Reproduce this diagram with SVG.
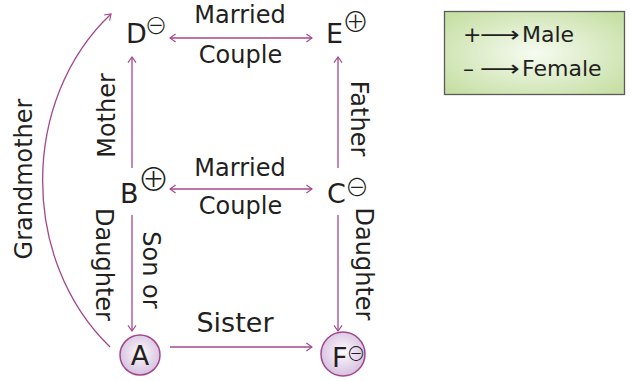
<svg xmlns="http://www.w3.org/2000/svg" width="631" height="381" viewBox="0 0 631 381">
<style>
.t{font-family:"DejaVu Sans","Liberation Sans",sans-serif;fill:#231f20}
.lb{font-size:24px;text-anchor:middle}
.ltr{font-size:27px}
.sy{font-family:"Noto Sans CJK JP","DejaVu Sans",sans-serif;font-weight:300;fill:#231f20;text-anchor:middle;dominant-baseline:central}
.con{fill:none;stroke:#a3478c;stroke-width:1.3}
.node{fill:url(#cg);stroke:#a3478c;stroke-width:1.5}
.leg{font-size:22px}
</style>
<defs>
<marker id="ah" viewBox="0 0 10 12" refX="9" refY="6" markerWidth="8" markerHeight="10" markerUnits="userSpaceOnUse" orient="auto-start-reverse">
<path d="M2,1 L9,6 L2,11" fill="none" stroke="#a3478c" stroke-width="1.4"/>
</marker>
<radialGradient id="cg" cx="50%" cy="45%" r="55%">
<stop offset="0" stop-color="#fdfbfd"/>
<stop offset="1" stop-color="#d6c0e0"/>
</radialGradient>
<radialGradient id="lg" cx="50%" cy="50%" r="65%">
<stop offset="0" stop-color="#f6fbf1"/>
<stop offset="1" stop-color="#c6dfa4"/>
</radialGradient>
</defs>

<g id="connectors">
<path class="con" d="M170,38 H312" marker-start="url(#ah)" marker-end="url(#ah)"/>
<path class="con" d="M170,189 H312" marker-start="url(#ah)" marker-end="url(#ah)"/>
<path class="con" d="M170,347 H312" marker-end="url(#ah)"/>
<path class="con" d="M132,168 V57" marker-end="url(#ah)"/>
<path class="con" d="M338,168 V57" marker-end="url(#ah)"/>
<path class="con" d="M132,215 V331" marker-end="url(#ah)"/>
<path class="con" d="M338,215 V331" marker-end="url(#ah)"/>
<path class="con" d="M110,347 C20,260 20,100 111,14" marker-end="url(#ah)"/>
</g>

<g id="labels">
<text class="t lb" x="240" y="23">Married</text>
<text class="t lb" x="240.5" y="63">Couple</text>
<text class="t lb" x="240" y="176">Married</text>
<text class="t lb" x="240.5" y="214">Couple</text>
<text class="t" x="235" y="332" style="font-size:27px;text-anchor:middle">Sister</text>
<text class="t lb" transform="translate(115,115.5) rotate(-90)">Mother</text>
<text class="t lb" transform="translate(32,179) rotate(-90)">Grandmother</text>
<text class="t lb" transform="translate(96,264.5) rotate(90)">Daughter</text>
<text class="t lb" transform="translate(143,270) rotate(90)">Son or</text>
<text class="t lb" transform="translate(351,118.5) rotate(90)">Father</text>
<text class="t lb" transform="translate(356,264) rotate(90)">Daughter</text>
</g>

<g id="node-D">
<text class="t ltr" x="126" y="43">D</text>
<text class="sy" x="156" y="23.5" style="font-size:23px">⊖</text>
</g>
<g id="node-E">
<text class="t ltr" x="326" y="43">E</text>
<text class="sy" x="355.5" y="20" style="font-size:27px">⊕</text>
</g>
<g id="node-B">
<text class="t ltr" x="120" y="203">B</text>
<text class="sy" x="153.5" y="177" style="font-size:32px">⊕</text>
</g>
<g id="node-C">
<text class="t ltr" x="327" y="203">C</text>
<text class="sy" x="357" y="185" style="font-size:24px">⊖</text>
</g>
<g id="node-A">
<circle class="node" cx="140" cy="355" r="20"/>
<text class="t ltr" x="140" y="365" text-anchor="middle">A</text>
</g>
<g id="node-F">
<circle class="node" cx="343" cy="354" r="22"/>
<text class="t ltr" x="332" y="367">F</text>
<text class="sy" x="356" y="352" style="font-size:19px">⊖</text>
</g>

<g id="legend">
<rect x="444.5" y="11.5" width="180" height="83" fill="url(#lg)" stroke="#5b5b5b" stroke-width="1.3"/>
<text class="t leg" x="463" y="42">+</text>
<text class="t leg" x="480" y="42" textLength="40" lengthAdjust="spacingAndGlyphs">⟶</text>
<text class="t leg" x="522" y="42">Male</text>
<text class="t leg" x="463" y="76">–</text>
<text class="t leg" x="480" y="76" textLength="40" lengthAdjust="spacingAndGlyphs">⟶</text>
<text class="t leg" x="522" y="76">Female</text>
</g>
</svg>
